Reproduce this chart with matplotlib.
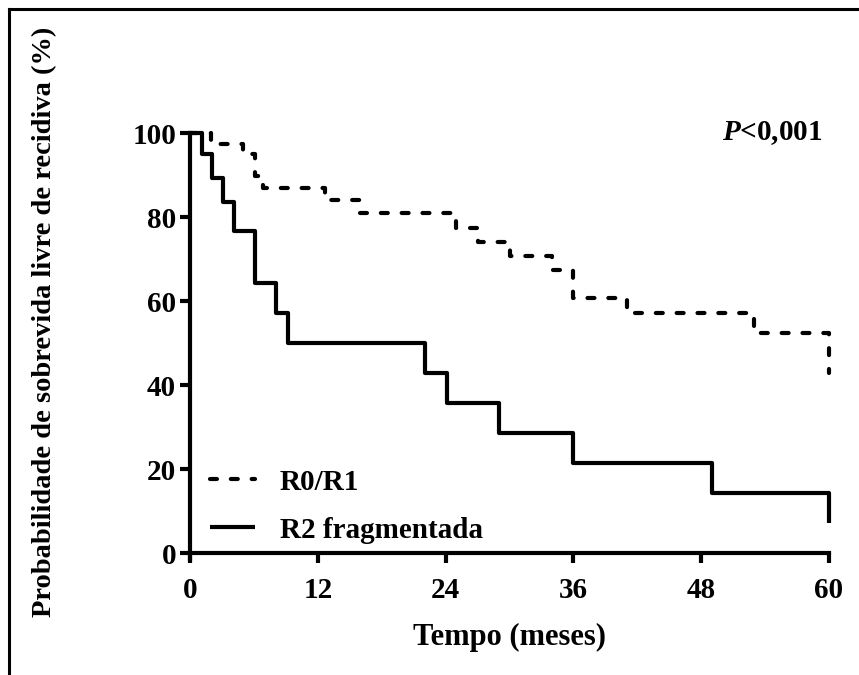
import matplotlib
matplotlib.use("Agg")
import matplotlib.pyplot as plt
from matplotlib.lines import Line2D

plt.rcParams['font.family'] = ['Liberation Serif', 'DejaVu Serif']
plt.rcParams['font.weight'] = 'bold'
plt.rcParams['lines.scale_dashes'] = False
plt.rcParams['mathtext.fontset'] = 'custom'
plt.rcParams['mathtext.it'] = 'Liberation Serif:italic:bold'
plt.rcParams['mathtext.rm'] = 'Liberation Serif:bold'

# Data (Kaplan-Meier steps)
r01_time = [0, 2, 5, 6.1, 6.9, 12.7, 16, 25, 27, 30, 34, 36, 41, 53, 60]
r01_surv = [100, 97.4, 95.0, 89.7, 86.8, 84.0, 81.0, 77.5, 74.1, 70.7, 67.4, 60.8, 57.1, 52.3, 42.8]
r2_time = [0, 1.1, 2.1, 3.1, 4.1, 6.1, 8.1, 9.2, 22.1, 24.1, 29.0, 36.0, 49.0, 60]
r2_surv = [100, 94.9, 89.2, 83.5, 76.7, 64.3, 57.1, 50.0, 42.9, 35.7, 28.6, 21.4, 14.3, 7.1]
xticks = [0, 12, 24, 36, 48, 60]
yticks = [0, 20, 40, 60, 80, 100]
labels = ['R0/R1', 'R2 fragmentada']

W, H = 859, 675
fig = plt.figure(figsize=(W / 100, H / 100), dpi=100)
ax = fig.add_axes([190 / W, (H - 553) / H, (829 - 190) / W, (553 - 133) / H])

lw = 3.0
ld, = ax.step(r01_time, r01_surv, where='post', color='black', lw=lw,
              dash_capstyle='round', clip_on=False, label=labels[0])
ld.set_dashes([5.0, 10.0])
ls, = ax.step(r2_time, r2_surv, where='post', color='black', lw=lw,
              solid_capstyle='butt', clip_on=False, label=labels[1])

ax.set_xlim(0, 60)
ax.set_ylim(0, 100)
ax.set_xticks(xticks)
ax.set_yticks(yticks)
for s in ['top', 'right']:
    ax.spines[s].set_visible(False)
for s in ['left', 'bottom']:
    ax.spines[s].set_linewidth(3.0)
ax.spines['left'].set_bounds(-1.5, 100)
ax.tick_params(axis='both', width=3.0, length=7, labelsize=21)
ax.tick_params(axis='x', pad=10)
ax.tick_params(axis='y', pad=3)
for lab in ax.get_xticklabels() + ax.get_yticklabels():
    lab.set_fontweight('bold')

ax.set_xlabel('Tempo (meses)', fontsize=22, fontweight='bold', labelpad=14)
fig.text(45 / W, 1 - 322 / H, 'Probabilidade de sobrevida livre de recidiva (%)',
         rotation=90, ha='center', va='center', fontsize=20.5, fontweight='bold')

ax.text(822 / W, 1 - 133 / H, r'$\mathit{P}$<0,001', transform=fig.transFigure,
        ha='right', va='center', fontsize=21, fontweight='bold')

leg = ax.legend(loc='lower left', bbox_to_anchor=(-0.01, -0.04), frameon=False,
                fontsize=21, handlelength=1.55, handletextpad=0.85, labelspacing=0.72,
                borderaxespad=0.5)
for t in leg.get_texts():
    t.set_fontweight('bold')

# Frame lines around figure (top and left)
fig.add_artist(Line2D([9 / W, 1.0], [1 - 9 / H, 1 - 9 / H], color='black', lw=2.2,
                      transform=fig.transFigure))
fig.add_artist(Line2D([9 / W, 9 / W], [0, 1 - 9 / H], color='black', lw=2.2,
                      transform=fig.transFigure))

fig.savefig('out.png', dpi=100)
